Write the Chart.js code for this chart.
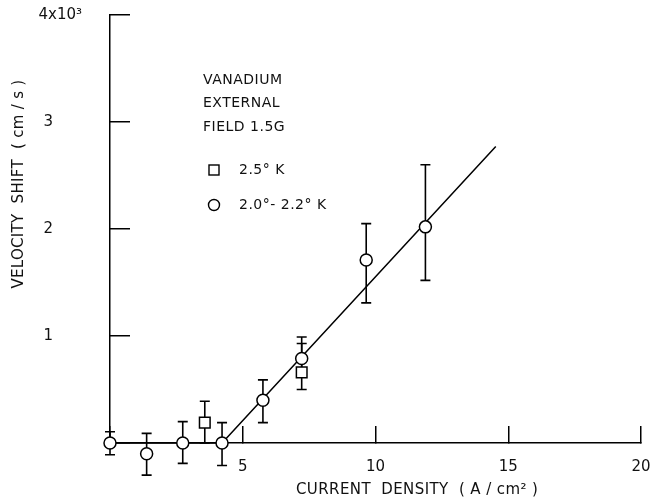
<!DOCTYPE html>
<html>
<head>
<meta charset="utf-8">
<script src="https://cdn.jsdelivr.net/npm/chart.js@4/dist/chart.umd.min.js"></script>
<style>
  body { margin: 0; background: #fff; }
  #wrap { width: 650px; height: 501px; }
</style>
</head>
<body>
<div id="wrap"><canvas id="grafico"></canvas></div>
<script>
// velocity shift in units of 10^3 cm/s, current density in A/cm^2
const circuloX = [0, 1.38, 2.74, 4.22, 5.76, 7.22, 9.65, 11.88];
const circuloY = [0, -0.10, 0, 0, 0.40, 0.79, 1.71, 2.02];
const circuloMin = [-0.11, -0.30, -0.19, -0.21, 0.19, 0.62, 1.31, 1.52];
const circuloMax = [0.105, 0.09, 0.20, 0.19, 0.59, 0.99, 2.05, 2.60];

const cuadradoX = [3.57, 7.22];
const cuadradoY = [0.19, 0.66];
const cuadradoMin = [0, 0.50];
const cuadradoMax = [0.39, 0.93];

const rectaX = [0, 4.22, 14.53];
const rectaY = [0, 0, 2.77];

const ticksX = [5, 10, 15, 20];
const ticksY = ['1', '2', '3', '4x10³'];

const leyenda = ['VANADIUM', 'EXTERNAL', 'FIELD 1.5G'];
const etiquetas = ['2.5° K', '2.0°- 2.2° K'];

const tituloX = 'CURRENT  DENSITY  ( A / cm² )';
const tituloY = 'VELOCITY  SHIFT  ( cm / s )';

const fuente = "'DejaVu Sans', sans-serif";

const puntos = (xs, ys, lo, hi) => xs.map((x, i) => ({x: x, y: ys[i], lo: lo ? lo[i] : null, hi: hi ? hi[i] : null}));

// error bars under the markers; the area is widened so points below y=0 still get drawn
const barrasError = {
  id: 'barrasError',
  beforeDatasetsDraw(chart) {
    const {ctx, scales: {x, y}} = chart;
    ctx.save();
    ctx.strokeStyle = '#000';
    ctx.lineWidth = 1.6;
    chart.data.datasets.forEach(ds => {
      if (!ds.barras) return;
      ds.data.forEach(p => {
        const px = x.getPixelForValue(p.x);
        const y1 = y.getPixelForValue(p.lo);
        const y2 = y.getPixelForValue(p.hi);
        ctx.beginPath();
        ctx.moveTo(px, y1); ctx.lineTo(px, y2);
        ctx.moveTo(px - 5, y1); ctx.lineTo(px + 5, y1);
        ctx.moveTo(px - 5, y2); ctx.lineTo(px + 5, y2);
        ctx.stroke();
      });
    });
    ctx.restore();
    chart._areaReal = chart.chartArea;
    chart.chartArea = {left: 0, top: 0, right: chart.width, bottom: chart.height, width: chart.width, height: chart.height};
  },
  afterDatasetsDraw(chart) {
    if (chart._areaReal) chart.chartArea = chart._areaReal;
  }
};

// texts inside the plot and the axis titles
const textos = {
  id: 'textos',
  afterDraw(chart) {
    const {ctx} = chart;
    ctx.save();
    ctx.fillStyle = '#111';
    ctx.font = '14px ' + fuente;
    ctx.letterSpacing = '0.5px';
    ctx.textBaseline = 'middle';
    ctx.textAlign = 'left';
    leyenda.forEach((t, i) => ctx.fillText(t, 203, 80 + i * 23.7));
    ctx.fillText(etiquetas[0], 239, 170);
    ctx.fillText(etiquetas[1], 239, 205);

    ctx.strokeStyle = '#000';
    ctx.lineWidth = 1.4;
    ctx.strokeRect(209, 165, 10, 10);
    ctx.beginPath();
    ctx.arc(214, 205, 5.5, 0, Math.PI * 2);
    ctx.stroke();

    ctx.font = '15px ' + fuente;
    ctx.letterSpacing = '0.4px';
    ctx.fillText(tituloX, 296, 490);

    ctx.letterSpacing = '0.3px';
    ctx.translate(19, 184);
    ctx.rotate(-Math.PI / 2);
    ctx.textAlign = 'center';
    ctx.fillText(tituloY, 0, 0);
    ctx.restore();
  }
};

const config = {
  type: 'scatter',
  data: {
    datasets: [
      {
        label: '2.0°- 2.2° K',
        data: puntos(circuloX, circuloY, circuloMin, circuloMax),
        barras: true,
        pointStyle: 'circle',
        pointRadius: 6,
        pointBackgroundColor: '#fff',
        pointBorderColor: '#000',
        pointBorderWidth: 1.5,
        clip: false
      },
      {
        label: '2.5° K',
        data: puntos(cuadradoX, cuadradoY, cuadradoMin, cuadradoMax),
        barras: true,
        pointStyle: 'rect',
        pointRadius: 7.5,
        pointBackgroundColor: '#fff',
        pointBorderColor: '#000',
        pointBorderWidth: 1.5,
        clip: false
      },
      {
        type: 'line',
        label: 'fit',
        data: puntos(rectaX, rectaY),
        borderColor: '#000',
        borderWidth: 1.5,
        pointRadius: 0,
        fill: false,
        tension: 0,
        clip: false
      }
    ]
  },
  options: {
    responsive: true,
    maintainAspectRatio: false,
    animation: false,
    layout: {padding: {top: 15, right: 8, left: 0, bottom: 0}},
    plugins: {
      legend: {display: false},
      tooltip: {enabled: false},
      title: {display: false}
    },
    scales: {
      x: {
        type: 'linear',
        min: 0,
        max: 20,
        afterBuildTicks: s => { s.ticks = [0].concat(ticksX).map(v => ({value: v})); },
        afterFit: s => { s.height = 58; s.paddingLeft = 0; s.paddingRight = 8; },
        border: {display: true, color: '#000', width: 1.5},
        grid: {display: true, drawOnChartArea: false, drawTicks: true, tickLength: -17, color: '#000', lineWidth: 1.5},
        ticks: {
          padding: 32,
          maxRotation: 0,
          autoSkip: false,
          color: '#111',
          font: {family: fuente, size: 15},
          callback: v => (v === 0 ? '' : String(v))
        },
        title: {display: false}
      },
      y: {
        type: 'linear',
        min: 0,
        max: 4,
        afterBuildTicks: s => { s.ticks = [0, 1, 2, 3, 4].map(v => ({value: v})); },
        afterFit: s => { s.width = 110; s.paddingTop = 0; s.paddingBottom = 0; },
        border: {display: true, color: '#000', width: 1.5},
        grid: {display: true, drawOnChartArea: false, drawTicks: true, tickLength: -20, color: '#000', lineWidth: 1.5},
        ticks: {
          padding: 48,
          crossAlign: 'center',
          autoSkip: false,
          color: '#111',
          font: {family: fuente, size: 15},
          // the top label sits further right than the digits in the original
          callback: v => (v === 0 ? '' : (v === 4 ? '     ' + ticksY[v - 1] : ticksY[v - 1]))
        }
      }
    }
  },
  plugins: [barrasError, textos]
};

const grafico = new Chart(document.getElementById('grafico'), config);
</script>
</body>
</html>
